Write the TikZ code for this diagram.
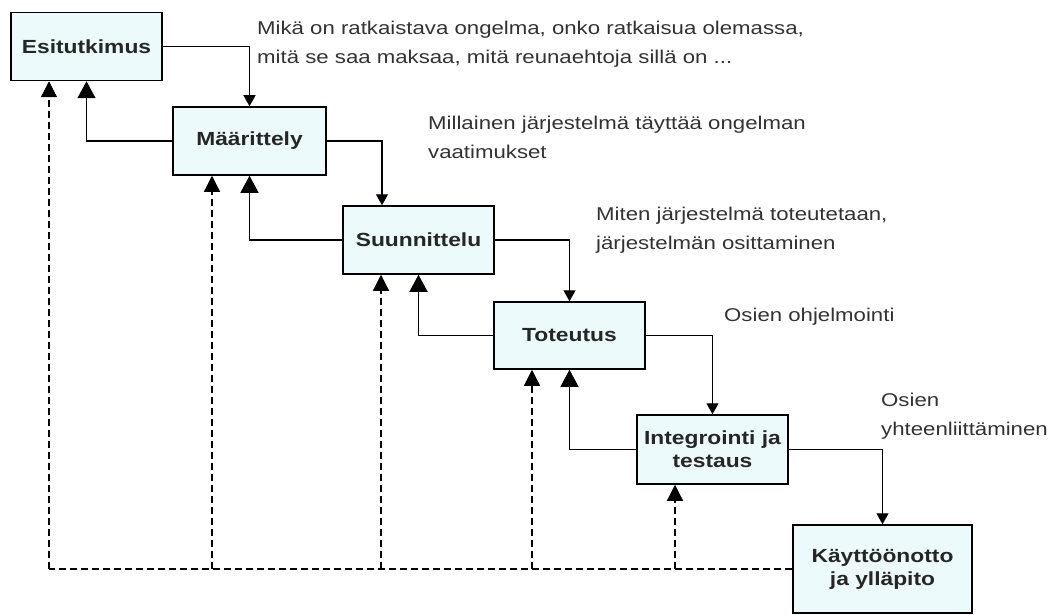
\documentclass[tikz,border=0pt]{standalone}
\usepackage{fontspec}
\setmainfont[FakeStretch=1.2]{Liberation Sans}
\usepackage{tikz}
\usetikzlibrary{arrows.meta,positioning,calc}
\definecolor{boxfill}{RGB}{236,250,252}
\definecolor{notegray}{RGB}{50,50,50}

\begin{document}
\begin{tikzpicture}[x=1pt, y=-1pt,
        phase/.style={draw, line width=1.5pt, fill=boxfill, minimum width=151pt,
            minimum height=68pt, inner sep=2pt, align=center,
            font=\fontsize{19}{23}\selectfont\bfseries, text=black!85},
        note/.style={anchor=west, align=left, inner sep=0pt,
            font=\fontsize{18.5}{29}\selectfont, text=notegray},
        fwd/.style={line width=1.2pt, -{Triangle[width=12pt, length=11pt]}},
        back/.style={line width=1.2pt, -{Triangle[width=18pt, length=17pt]}},
        retro/.style={line width=1.2pt, dash pattern=on 7pt off 4pt,
            -{Triangle[width=16pt, length=16pt]}},
        bus/.style={line width=1.2pt, dash pattern=on 7pt off 4pt}]
    \useasboundingbox (0,0) rectangle (1063,615);

    % phases of the waterfall
    \node[phase] (esi) at (86.5,46.5) {Esitutkimus};
    \node[phase, minimum width=153pt] (maar) at (249.5,141) {Määrittely};
    \node[phase] (suun) at (418.5,240) {Suunnittelu};
    \node[phase, minimum height=67pt] (tot) at (569.5,335.5) {Toteutus};
    \node[phase, minimum height=69pt] (integ) at (712.5,449.5) {Integrointi ja\\testaus};
    \node[phase, minimum width=179pt, minimum height=88pt] (kayt) at (882.5,569) {Käyttöönotto\\ja ylläpito};

    % notes beside the phases
    \node[note] (n1) at (257,44.5) {Mikä on ratkaistava ongelma, onko ratkaisua olemassa,\\mitä se saa maksaa, mitä reunaehtoja sillä on ...};
    \node[note] (n2) at (428,137.5) {Millainen järjestelmä täyttää ongelman\\vaatimukset};
    \node[note] (n3) at (596,230) {Miten järjestelmä toteutetaan,\\järjestelmän osittaminen};
    \node[note] (n4) at (724,317) {Osien ohjelmointi};
    \node[note] (n5) at (881,416.5) {Osien\\yhteenliittäminen};

    % forward steps
    \draw[fwd] (esi.east) -| (maar.north);
    \draw[fwd] (maar.east) -| ([xshift=-36.5pt]suun.north);
    \draw[fwd] (suun.east) -| (tot.north);
    \draw[fwd] (tot.east) -| (integ.north);
    \draw[fwd] (integ.east) -| (kayt.north);

    % feedback to the previous phase
    \draw[back] (maar.west) -| (esi.south);
    \draw[back] (suun.west) -| (maar.south);
    \draw[back] (tot.west) -| (suun.south);
    \draw[back] (integ.west) -| (tot.south);

    % dashed feedback from maintenance
    \coordinate (b0) at ([xshift=-37.5pt]esi.south |- kayt.west);
    \draw[bus] (kayt.west) -- (b0);
    \foreach \p in {esi,maar,suun,tot,integ}
        \draw[retro] ([xshift=-37.5pt]\p.south |- kayt.west) -- ([xshift=-37.5pt]\p.south);

\end{tikzpicture}
\end{document}
